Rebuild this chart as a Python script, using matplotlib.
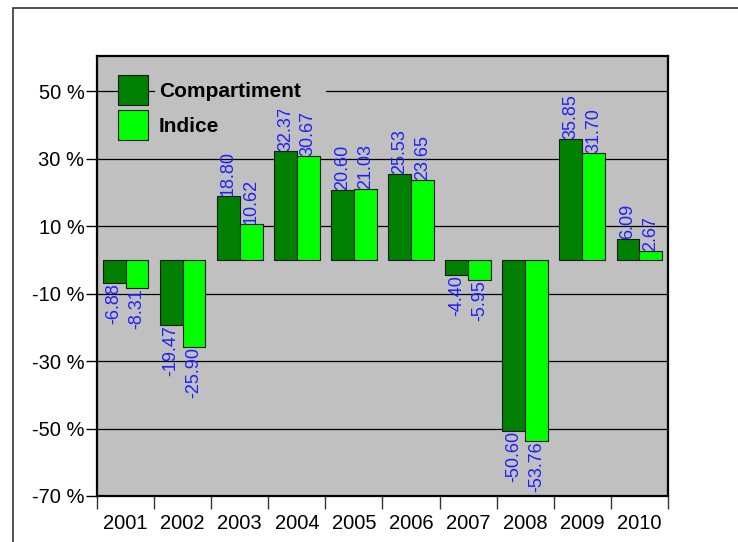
import matplotlib.pyplot as plt
import numpy as np
from matplotlib.patches import Rectangle

plt.rcParams['font.family'] = ['Liberation Sans', 'DejaVu Sans']

years = ['2001', '2002', '2003', '2004', '2005', '2006', '2007', '2008', '2009', '2010']
compartiment = [-6.88, -19.47, 18.80, 32.37, 20.60, 25.53, -4.40, -50.60, 35.85, 6.09]
indice = [-8.31, -25.90, 10.62, 30.67, 21.03, 23.65, -5.95, -53.76, 31.70, 2.67]
yticks = [50, 30, 10, -10, -30, -50, -70]

fig = plt.figure(figsize=(7.38, 5.42), dpi=100)
ax = fig.add_axes([0.1314, 0.0849, 0.7737, 0.8118])
ax.set_facecolor('#C0C0C0')

# outer frame of the picture (right/bottom side cut off)
fig.patches.append(Rectangle((0.0176, -0.1), 1.1, 1.0852, transform=fig.transFigure,
                             fill=False, edgecolor='#333333', lw=1.2))

x = np.arange(len(years)) + 0.5
w = 0.4
b1 = ax.bar(x - w / 2, compartiment, w, color='#008000', edgecolor='#1a1a1a', lw=0.8,
            label='Compartiment', zorder=2)
b2 = ax.bar(x + w / 2, indice, w, color='#00FF00', edgecolor='#1a1a1a', lw=0.8,
            label='Indice', zorder=2)

for bars, vals in [(b1, compartiment), (b2, indice)]:
    for rect, v in zip(bars, vals):
        cx = rect.get_x() + rect.get_width() / 2
        ax.text(cx, v, '%.2f' % v, rotation=90, ha='center',
                va='bottom' if v >= 0 else 'top', color='#1f1fff', fontsize=13,
                zorder=3, clip_on=True)

ax.set_xlim(0, 10)
ax.set_ylim(-70, 60.4)
ax.set_yticks(yticks)
ax.set_yticklabels(['%d %%' % t for t in yticks], fontsize=14.5)
ax.yaxis.grid(True, color='black', lw=0.9)
ax.set_axisbelow(True)

ax.set_xticks(np.arange(0, 11))
ax.set_xticklabels([])
ax.set_xticks(x, minor=True)
ax.set_xticklabels(years, minor=True, fontsize=14.5)
ax.tick_params(axis='x', which='major', length=9, width=1, color='#333333', direction='out')
ax.tick_params(axis='x', which='minor', length=0, pad=13)
ax.tick_params(axis='y', length=8, width=1, pad=1, direction='out')

for s in ax.spines.values():
    s.set_linewidth(1.6)
    s.set_color('black')

# gray box behind the legend texts (hides the gridline and the clipped label)
ax.add_patch(Rectangle((0.1016, 0.8776), 0.2995, 0.0904, transform=ax.transAxes,
                       facecolor='#C0C0C0', edgecolor='none', zorder=4))

leg = ax.legend(loc='upper left', bbox_to_anchor=(0.0368, 0.957), frameon=False,
                borderpad=0, borderaxespad=0, handlelength=1.44, handleheight=1.84,
                handletextpad=0.53, labelspacing=0.24,
                prop={'weight': 'bold', 'size': 15})
leg.set_zorder(5)

plt.savefig('out.png', dpi=100)
